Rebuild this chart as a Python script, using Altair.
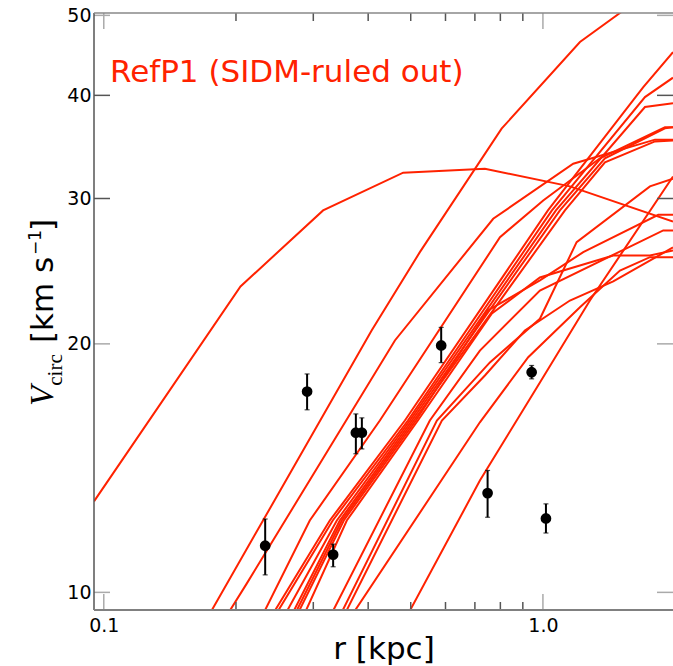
import altair as alt
import pandas as pd

RED = "#ff2200"

# ---- model rotation curves: radius r [kpc] and V_circ [km/s] ----
a_r = [0.095, 0.2048, 0.3158, 0.4806, 0.7377, 1.152, 1.978]
a_v = [12.89, 23.47, 29.02, 32.24, 32.60, 31.03, 28.14]
b_r = [0.1759, 0.4073, 0.5245, 0.8052, 1.2143, 1.4978, 1.8474]
b_v = [9.50, 20.76, 25.83, 36.45, 46.42, 50.33, 54.53]
c_r = [0.1936, 0.2114, 0.4602, 0.7705, 1.1722, 1.7995, 1.978]
c_v = [9.50, 10.24, 20.19, 28.35, 33.06, 35.35, 35.35]
d_r = [0.2326, 0.2945, 0.4253, 0.7984, 1.0016, 1.3486, 1.8963, 1.978]
d_v = [9.50, 12.22, 16.15, 26.93, 29.84, 33.56, 36.59, 36.59]
p1_r = [0.2452, 0.3271, 0.4849, 1.0266, 1.6925, 1.978]
p1_v = [9.50, 12.22, 16.15, 29.02, 40.93, 45.13]
p2_r = [0.2495, 0.3322, 0.4926, 1.0484, 1.7075, 1.978]
p2_v = [9.50, 12.22, 16.15, 29.02, 39.81, 42.02]
p3_r = [0.2616, 0.3394, 0.4977, 1.0706, 1.7075, 1.978]
p3_v = [9.50, 12.22, 16.15, 29.02, 38.72, 39.12]
p4_r = [0.2709, 0.3447, 0.5030, 1.0932, 1.3844, 1.8963, 1.978]
p4_v = [9.50, 12.22, 16.15, 29.02, 33.56, 36.49, 36.59]
p5_r = [0.2748, 0.3483, 0.5083, 1.1223, 1.3844, 1.7995, 1.978]
p5_v = [9.50, 12.22, 16.15, 29.02, 33.18, 35.18, 35.28]
p6_r = [0.2786, 0.3520, 0.5136, 0.7493, 0.9844, 1.2355, 1.8309, 1.978]
p6_v = [9.50, 12.22, 16.15, 21.95, 23.87, 25.83, 28.67, 28.67]
p7_r = [0.2885, 0.3576, 0.5191, 0.7652, 0.9844, 1.4459, 1.7529, 1.978]
p7_v = [9.50, 12.22, 16.15, 21.77, 24.07, 25.59, 25.59, 25.96]
q1_r = [0.3328, 0.5527, 0.7186, 0.9844, 1.8793, 1.978]
q1_v = [9.50, 16.15, 19.63, 23.21, 27.44, 27.44]
q2_r = [0.3496, 0.5735, 0.7573, 0.9844, 1.1934, 1.7529, 1.978]
q2_v = [9.50, 16.15, 18.99, 21.45, 26.56, 31.03, 31.70]
q3_r = [0.3570, 0.5887, 0.7377, 0.9098, 1.1521, 1.4459, 1.978]
q3_v = [9.50, 16.15, 18.31, 20.76, 22.57, 23.81, 26.17]
q4_r = [0.3730, 0.7186, 0.9258, 1.2143, 1.4978, 1.7529, 1.978]
q4_v = [9.50, 16.07, 19.27, 22.15, 24.54, 25.47, 25.47]
e_r = [0.4977, 0.7186, 0.9844, 1.2793, 1.978]
e_v = [9.50, 13.66, 17.96, 22.57, 31.90]

curves = [
    ("a", a_r, a_v), ("b", b_r, b_v), ("c", c_r, c_v), ("d", d_r, d_v),
    ("p1", p1_r, p1_v), ("p2", p2_r, p2_v), ("p3", p3_r, p3_v),
    ("p4", p4_r, p4_v), ("p5", p5_r, p5_v), ("p6", p6_r, p6_v),
    ("p7", p7_r, p7_v), ("q1", q1_r, q1_v), ("q2", q2_r, q2_v),
    ("q3", q3_r, q3_v), ("q4", q4_r, q4_v), ("e", e_r, e_v),
]

# ---- observed dwarfs ----
dw_r = [0.2331, 0.2904, 0.3750, 0.3870, 0.3329, 0.5866, 0.9426, 0.7482, 1.016]
dw_v = [11.39, 17.51, 15.61, 15.61, 11.11, 19.91, 18.48, 13.19, 12.29]
dw_lo = [10.50, 16.64, 14.72, 14.92, 10.74, 18.98, 18.14, 12.33, 11.80]
dw_hi = [12.27, 18.39, 16.45, 16.27, 11.44, 20.94, 18.83, 14.05, 12.80]

x_major = [0.1, 1.0]
x_minor = [0.2, 0.3, 0.4, 0.5, 0.6, 0.7, 0.8, 0.9]
y_ticks = [10, 20, 30, 40, 50]
y_light = [10, 20, 50]
y_dark = [30, 40]

rows = []
for name, rr, vv in curves:
    for i, (r, v) in enumerate(zip(rr, vv)):
        rows.append({"curve": name, "i": i, "r": r, "v": v})
curve_df = pd.DataFrame(rows)
dw_df = pd.DataFrame({"r": dw_r, "v": dw_v, "lo": dw_lo, "hi": dw_hi})

W, H = 579, 597
xs = alt.Scale(type="log", domain=[0.095, 1.978], nice=False)
ys = alt.Scale(type="log", domain=[9.52, 50.33], nice=False)

FONT = "DejaVu Sans"

AX_X = alt.Axis(
    values=x_major, format=".1f", title="r [kpc]", grid=False,
    ticks=False, tickSize=0, domain=False, labelPadding=6,
    labelFontSize=19, labelFont=FONT, labelColor="black",
    titleFont=FONT, titleFontSize=31, titleFontWeight="normal",
    titleColor="black", titleBaseline="alphabetic", titleY=48)
AX_Y = alt.Axis(
    values=y_ticks, format="d", title=None, grid=False,
    ticks=False, tickSize=0, domain=False, labelPadding=3,
    labelFontSize=19, labelFont=FONT, labelColor="black")


def X(field):
    return alt.X(field, scale=xs, axis=AX_X)


def Y(field):
    return alt.Y(field, scale=ys, axis=AX_Y)


lines = alt.Chart(curve_df).mark_line(color=RED, strokeWidth=2, clip=True).encode(
    x=X("r:Q"), y=Y("v:Q"), detail="curve:N", order="i:Q")

bars = alt.Chart(dw_df).mark_rule(color="black", strokeWidth=2).encode(
    x=X("r:Q"), y=Y("lo:Q"), y2="hi:Q")
cap_lo = alt.Chart(dw_df).mark_tick(color="black", orient="horizontal", size=5, thickness=1.2).encode(
    x=X("r:Q"), y=Y("lo:Q"))
cap_hi = alt.Chart(dw_df).mark_tick(color="black", orient="horizontal", size=5, thickness=1.2).encode(
    x=X("r:Q"), y=Y("hi:Q"))
pts = alt.Chart(dw_df).mark_circle(color="black", size=115, opacity=1).encode(
    x=X("r:Q"), y=Y("v:Q"))


def xticks(vals, length, color, top):
    df = pd.DataFrame({"t": vals})
    y0 = 0 if top else H
    y1 = length if top else H - length
    return alt.Chart(df).mark_rule(color=color, strokeWidth=1.5).encode(
        x=X("t:Q"), y=alt.value(y0), y2=alt.value(y1))


def yticks(vals, length, color, right):
    df = pd.DataFrame({"t": vals})
    x0 = W if right else 0
    x1 = W - length if right else length
    return alt.Chart(df).mark_rule(color=color, strokeWidth=1.5).encode(
        y=Y("t:Q"), x=alt.value(x0), x2=alt.value(x1))


tick_layers = [
    xticks(x_major, 16, "#aaaaaa", False), xticks(x_major, 16, "#aaaaaa", True),
    xticks(x_minor, 8, "#555555", False), xticks(x_minor, 8, "#555555", True),
    yticks(y_light, 16, "#aaaaaa", False), yticks(y_light, 16, "#aaaaaa", True),
    yticks(y_dark, 16, "#555555", False), yticks(y_dark, 16, "#555555", True),
]

# frame (left, top, bottom spines; right spine lies just outside the picture)
spine_left = alt.Chart(pd.DataFrame({"k": [0]})).mark_rule(color="#555555", strokeWidth=1.5).encode(
    x=alt.value(0), y=alt.value(0), y2=alt.value(H))
spine_top = alt.Chart(pd.DataFrame({"k": [0]})).mark_rule(color="#888888", strokeWidth=1.5).encode(
    x=alt.value(0), x2=alt.value(W), y=alt.value(0))
spine_bottom = alt.Chart(pd.DataFrame({"k": [0]})).mark_rule(color="#808080", strokeWidth=2).encode(
    x=alt.value(0), x2=alt.value(W), y=alt.value(H))


def label(txt, x, y, size, font, color="black", angle=0, align="left",
          baseline="alphabetic", style="normal"):
    return alt.Chart(pd.DataFrame({"t": [txt]})).mark_text(
        align=align, baseline=baseline, fontSize=size, font=font, color=color,
        angle=angle, fontStyle=style).encode(
        x=alt.value(x), y=alt.value(y), text="t:N")


annot = label("RefP1 (SIDM-ruled out)", 16, 69, 31, FONT, color=RED)
yt_V = label("V", -41, 383, 33, "Liberation Serif", angle=270, align="center", style="italic")
yt_c = label("circ", -32, 357, 21, "Liberation Serif", angle=270, align="center")
yt_k = label("[km s", -41, 330, 31, FONT, angle=270, align="left")
yt_s = label("\u22121", -53, 242, 17, FONT, angle=270, align="left")
yt_b = label("]", -41, 218, 31, FONT, angle=270, align="left")

chart = alt.layer(
    lines, *tick_layers, spine_left, spine_top, spine_bottom,
    bars, cap_lo, cap_hi, pts,
    annot, yt_V, yt_c, yt_k, yt_s, yt_b,
).properties(
    width=W, height=H,
    padding={"left": 94, "top": 13, "right": 0, "bottom": 56},
    autosize=alt.AutoSizeParams(type="none"),
    background="white",
).configure_view(strokeWidth=0)

chart.save("out.html", embed_options={"renderer": "svg", "actions": False})
